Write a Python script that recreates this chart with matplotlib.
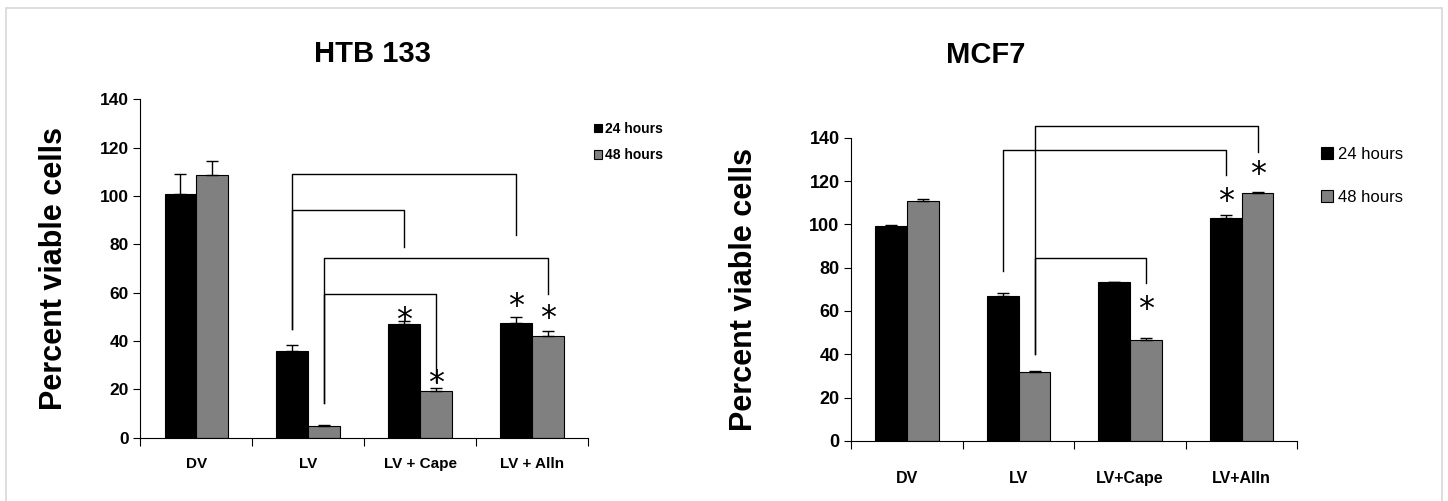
import numpy as np
import matplotlib.pyplot as plt
from matplotlib.patches import Rectangle

# ============================================================================
# DATA
# ============================================================================

HTB_CATS = ['DV', 'LV', 'LV + Cape', 'LV + Alln']
HTB_24 = [101, 36, 47, 47.5]
HTB_24_ERR = [8, 2.5, 1.5, 2.5]
HTB_48 = [108.5, 4.8, 19.5, 42]
HTB_48_ERR = [6, 0.4, 1.0, 2.2]

MCF_CATS = ['DV', 'LV', 'LV+Cape', 'LV+AlIn']
MCF_24 = [99.2, 67, 73.2, 103]
MCF_24_ERR = [0.5, 1.5, 0.4, 1.5]
MCF_48 = [110.8, 31.7, 46.8, 114.6]
MCF_48_ERR = [1.0, 0.5, 0.5, 0.5]

# brackets: (series_left, cat_left, series_right, cat_right, top, left_end, right_end)
HTB_BRACKETS = [
    (0, 1, 0, 3, 109, 45, 84),
    (0, 1, 0, 2, 94, 45, 79),
    (1, 1, 1, 3, 74.5, 14.5, 59.5),
    (1, 1, 1, 2, 59.5, 14.5, 23),
]
MCF_BRACKETS = [
    (1, 1, 1, 3, 145.5, 40, 133.5),
    (0, 1, 0, 3, 134.5, 78.5, 123),
    (1, 1, 1, 2, 84.5, 40, 73),
]

# asterisks: (series, category, height)
HTB_STARS = [(0, 2, 48.5), (1, 2, 22.5), (0, 3, 54.5), (1, 3, 49.5)]
MCF_STARS = [(1, 2, 60.5), (0, 3, 110.5), (1, 3, 123)]

SERIES = ['24 hours', '48 hours']
COLORS = ['#000000', '#808080']
BAR_W = 0.285

FONT = ['Liberation Sans', 'DejaVu Sans']


def bar_x(series, cat):
    return cat + (series - 0.5) * BAR_W


def draw_panel(ax, cats, v24, e24, v48, e48, brackets, stars, tick_fs):
    x = np.arange(len(cats))
    for s, (vals, errs) in enumerate([(v24, e24), (v48, e48)]):
        ax.bar(x + (s - 0.5) * BAR_W, vals, BAR_W, color=COLORS[s],
               edgecolor='black', linewidth=0.8, label=SERIES[s], zorder=2)
        ax.errorbar(x + (s - 0.5) * BAR_W, vals,
                    yerr=[np.zeros(len(errs)), errs], fmt='none',
                    ecolor='black', elinewidth=1.0, capsize=4, capthick=1.0,
                    zorder=3)

    # significance brackets
    for sl, cl, sr, cr, top, yl, yr in brackets:
        xl, xr = bar_x(sl, cl), bar_x(sr, cr)
        ax.plot([xl, xl, xr, xr], [yl, top, top, yr], color='black',
                linewidth=1.0, clip_on=False, zorder=4)

    for s, c, h in stars:
        ax.text(bar_x(s, c), h, '*', ha='center', va='center', fontsize=23,
                family=['DejaVu Sans'], zorder=5)

    ax.set_xlim(-0.5, len(cats) - 0.5)
    ax.set_ylim(0, 140)
    ax.set_yticks(range(0, 141, 20))
    # ticks at category boundaries, labels at centres
    ax.set_xticks(np.arange(-0.5, len(cats)), minor=False)
    ax.set_xticklabels([])
    ax.set_xticks(x, minor=True)
    ax.set_xticklabels(cats, minor=True, fontsize=tick_fs, family=FONT,
                       fontweight='bold')
    ax.tick_params(axis='x', which='major', length=6, direction='out')
    ax.tick_params(axis='x', which='minor', length=0, pad=14)
    ax.tick_params(axis='y', length=5, direction='out', labelsize=tick_fs + 1.5)
    for lab in ax.get_yticklabels():
        lab.set_family(FONT)
        lab.set_fontweight('bold')
    for sp in ['top', 'right']:
        ax.spines[sp].set_visible(False)
    ax.set_ylabel('Percent viable cells', fontsize=22, fontweight='bold',
                  family=FONT)


fig = plt.figure(figsize=(14.48, 5.01), dpi=100)

ax1 = fig.add_axes([0.097, 0.126, 0.309, 0.676])
draw_panel(ax1, HTB_CATS, HTB_24, HTB_24_ERR, HTB_48, HTB_48_ERR,
           HTB_BRACKETS, HTB_STARS, 11)
ax1.yaxis.labelpad = 22
ax1.set_title('HTB 133', fontsize=21, fontweight='bold', family=FONT, pad=27,
              x=0.518)

ax2 = fig.add_axes([0.588, 0.12, 0.308, 0.605])
draw_panel(ax2, MCF_CATS, MCF_24, MCF_24_ERR, MCF_48, MCF_48_ERR,
           MCF_BRACKETS, MCF_STARS, 11.5)
ax2.yaxis.labelpad = 36
ax2.set_title('MCF7', fontsize=21, fontweight='bold', family=FONT, pad=54,
              x=0.3)
ax2.tick_params(axis='x', which='minor', pad=22)

# legends
handles = [Rectangle((0, 0), 1, 1, facecolor=COLORS[i], edgecolor='black',
                     linewidth=0.8) for i in range(2)]
ax1.legend(handles, SERIES, loc='upper left', bbox_to_anchor=(0.985, 0.97),
           frameon=False, handlelength=0.6, handleheight=0.6,
           handletextpad=0.2, labelspacing=0.9,
           prop={'family': FONT, 'size': 10, 'weight': 'bold'})
ax2.legend(handles, SERIES, loc='upper left', bbox_to_anchor=(1.02, 1.02),
           frameon=False, handlelength=0.7, handleheight=0.7,
           handletextpad=0.3, labelspacing=1.7,
           prop={'family': FONT, 'size': 12})

# light frame around the whole image
fig.patches.append(Rectangle((0.004, -0.01), 0.992, 0.995, transform=fig.transFigure,
                             fill=False, edgecolor='#d8d8d8', linewidth=1.2))

fig.savefig('out.png', dpi=100)
